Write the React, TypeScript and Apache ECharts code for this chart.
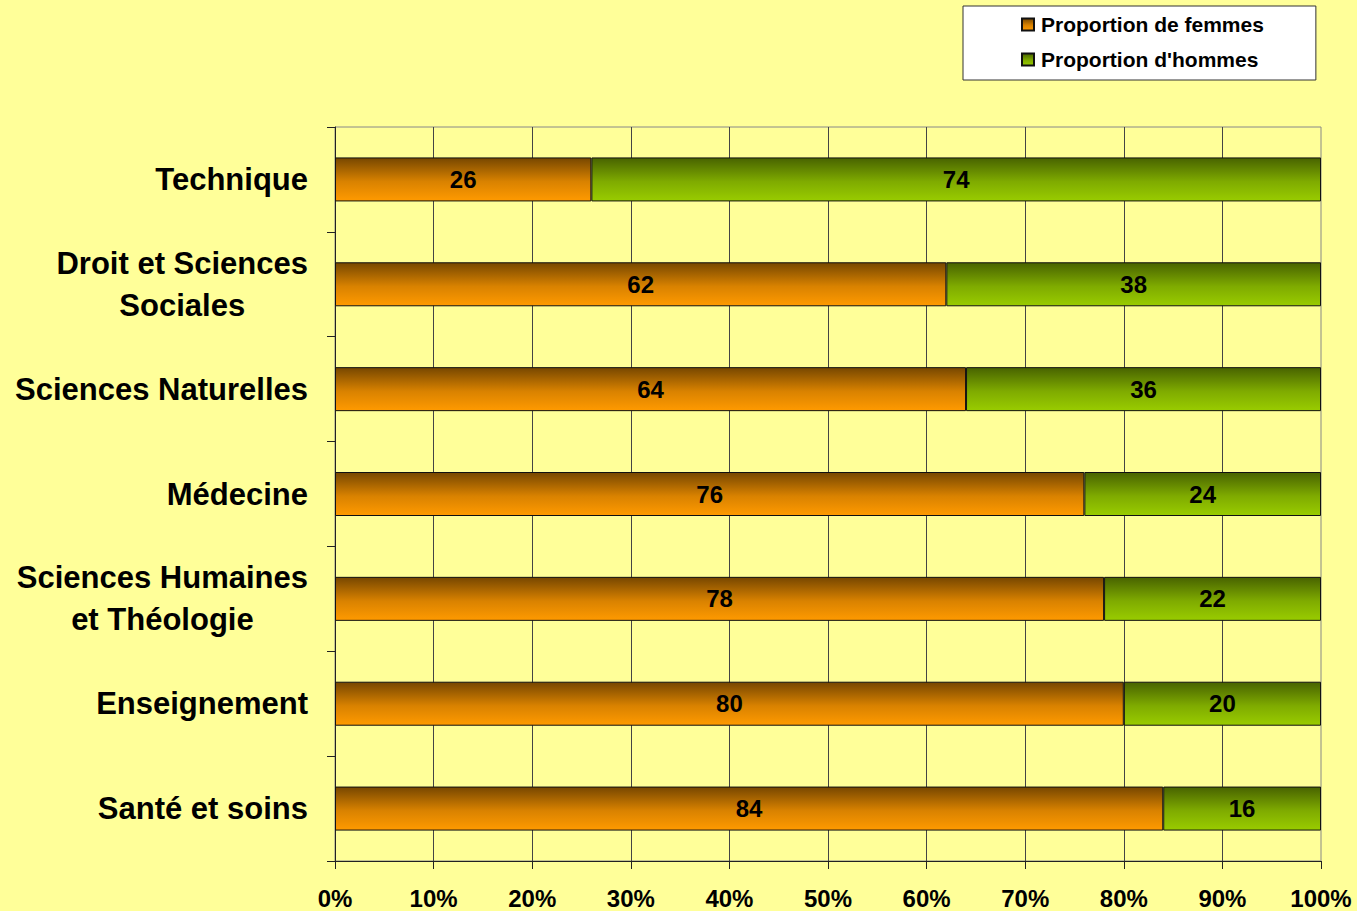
import React, { useEffect, useRef } from "react";
import * as echarts from "echarts";

const categories = [
  "Technique",
  "Droit et Sciences\nSociales",
  "Sciences Naturelles",
  "Médecine",
  "Sciences Humaines\net Théologie",
  "Enseignement",
  "Santé et soins",
];
const femmes = [26, 62, 64, 76, 78, 80, 84];
const hommes = [74, 38, 36, 24, 22, 20, 16];
const xTicks = [0, 10, 20, 30, 40, 50, 60, 70, 80, 90, 100];

export default function App() {
  const ref = useRef<HTMLDivElement>(null);
  useEffect(() => {
    if (!ref.current) return;
    const chart = echarts.init(ref.current, null, { renderer: "svg" });
    const font = "'Liberation Sans', Arial, sans-serif";
    const orange = new echarts.graphic.LinearGradient(0, 0, 0, 1, [
      { offset: 0, color: "#774700" },
      { offset: 0.55, color: "#d98200" },
      { offset: 1, color: "#ff9a00" },
    ]);
    const green = new echarts.graphic.LinearGradient(0, 0, 0, 1, [
      { offset: 0, color: "#486300" },
      { offset: 0.55, color: "#7fab00" },
      { offset: 1, color: "#99cc00" },
    ]);
    const label = {
      show: true,
      position: "inside",
      color: "#000",
      fontFamily: font,
      fontWeight: "bold",
      fontSize: 24,
    };
    chart.setOption({
      animation: false,
      backgroundColor: "#ffff99",
      textStyle: { fontFamily: font },
      legend: {
        orient: "vertical",
        left: 963,
        top: 6,
        backgroundColor: "#ffffff",
        borderColor: "#333",
        borderWidth: 1,
        padding: [8, 52, 10, 58],
        itemGap: 14,
        itemWidth: 12,
        itemHeight: 12,
        icon: "rect",
        textStyle: { fontFamily: font, fontWeight: "bold", fontSize: 21, color: "#000", padding: [0, 0, 0, 2] },
        data: ["Proportion de femmes", "Proportion d'hommes"],
      },
      grid: {
        left: 335,
        right: 36,
        top: 127,
        bottom: 50,
        show: true,
        borderColor: "#888",
        borderWidth: 1,
        backgroundColor: "transparent",
      },
      xAxis: {
        type: "value",
        min: 0,
        max: 100,
        interval: 10,
        axisLine: { show: true, lineStyle: { color: "#222", width: 1 } },
        axisTick: { show: true, length: 8, lineStyle: { color: "#222" } },
        splitLine: { show: true, showMaxLine: false, lineStyle: { color: "#444", width: 1 } },
        axisLabel: {
          formatter: (v: number) => (xTicks.includes(v) ? v + "%" : ""),
          color: "#000",
          fontFamily: font,
          fontWeight: "bold",
          fontSize: 24,
          margin: 25,
        },
      },
      yAxis: {
        type: "category",
        inverse: true,
        data: categories,
        axisLine: { show: true, lineStyle: { color: "#222", width: 1 } },
        axisTick: { show: true, length: 8, alignWithLabel: false, lineStyle: { color: "#222" } },
        axisLabel: {
          margin: 27,
          color: "#000",
          fontFamily: font,
          fontWeight: "bold",
          fontSize: 31,
          lineHeight: 42,
          formatter: (v: string) =>
            v
              .split("\n")
              .map((l) => "{c|" + l + "}")
              .join("\n"),
          rich: {
            c: {
              align: "center",
              color: "#000",
              fontFamily: font,
              fontWeight: "bold",
              fontSize: 31,
              lineHeight: 42,
            },
          },
        },
      },
      series: [
        {
          name: "Proportion de femmes",
          type: "bar",
          stack: "t",
          barWidth: 44,
          data: femmes,
          itemStyle: { color: orange, borderColor: "#111", borderWidth: 1 },
          label,
        },
        {
          name: "Proportion d'hommes",
          type: "bar",
          stack: "t",
          barWidth: 44,
          data: hommes,
          itemStyle: { color: green, borderColor: "#111", borderWidth: 1 },
          label,
        },
      ],
    });
    return () => chart.dispose();
  }, []);
  return <div ref={ref} style={{ width: 1357, height: 911, position: "fixed", left: 0, top: 0 }} />;
}
